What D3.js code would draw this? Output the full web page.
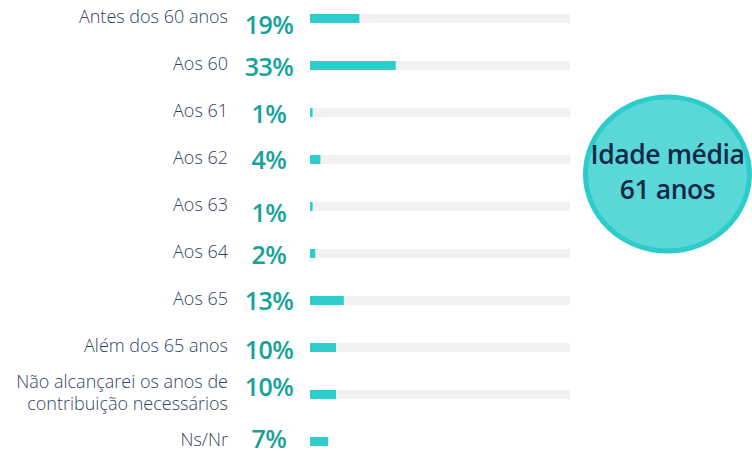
<!DOCTYPE html>
<html>
<head>
<meta charset="utf-8">
<script src="https://cdn.jsdelivr.net/npm/d3@7"></script>
<style>
  body { margin: 0; background: #fff; }
  svg { display: block; }
</style>
</head>
<body>
<div class="chart"></div>
<script>
var svgWidth = 752;
var svgHeight = 451;

// data
var categories = [
  ["Antes dos 60 anos"],
  ["Aos 60"],
  ["Aos 61"],
  ["Aos 62"],
  ["Aos 63"],
  ["Aos 64"],
  ["Aos 65"],
  ["Além dos 65 anos"],
  ["Não alcançarei os anos de", "contribuição necessários"],
  ["Ns/Nr"]
];
var shares = [19, 33, 1, 4, 1, 2, 13, 10, 10, 7];
var hasTrack = [true, true, true, true, true, true, true, true, true, false];
var averageText = ["Idade média", "61 anos"];

// small vertical nudges of the percentage labels, as in the original layout
var labelNudge = [6, 1, 1, 0, 6, 1, 0, 2, -8, -3];

var svg = d3.select(".chart")
  .append("svg")
  .attr("width", svgWidth)
  .attr("height", svgHeight);

var x = d3.scaleLinear()
  .domain([0, 100])
  .range([310, 570]);

var y = d3.scaleBand()
  .domain(d3.range(categories.length))
  .range([-5, 465])
  .paddingInner(0);

var barH = 9;
var rows = svg.selectAll("g.row")
  .data(shares)
  .enter()
  .append("g")
  .attr("class", "row")
  .attr("transform", (d, i) => `translate(0, ${y(i) + y.bandwidth() / 2})`);

// grey tracks
rows.filter((d, i) => hasTrack[i])
  .append("rect")
  .attr("x", x(0))
  .attr("y", -barH / 2)
  .attr("width", x(100) - x(0))
  .attr("height", barH)
  .attr("fill", "#f2f2f2");

// bars
rows.append("rect")
  .attr("x", x(0))
  .attr("y", -barH / 2)
  .attr("width", d => x(d) - x(0))
  .attr("height", barH)
  .attr("fill", "#2ecdcc");

// percentage labels
rows.append("text")
  .attr("x", 269)
  .attr("y", (d, i) => labelNudge[i])
  .attr("dy", "0.36em")
  .attr("text-anchor", "middle")
  .style("font-family", "'Open Sans', sans-serif")
  .style("font-weight", 600)
  .style("font-size", "25px")
  .style("letter-spacing", "-0.5px")
  .attr("fill", "#17a399")
  .text(d => d + "%");

// category labels
rows.append("text")
  .attr("x", 228)
  .attr("text-anchor", "end")
  .style("font-family", "'Open Sans', sans-serif")
  .style("font-weight", 300)
  .style("font-size", "18px")
  .attr("fill", "#34425f")
  .each(function(d, i) {
    var lines = categories[i];
    var t = d3.select(this);
    lines.forEach(function(line, j) {
      t.append("tspan")
        .attr("x", 228)
        .attr("y", -1.5 + (j - (lines.length - 1) / 2) * 22)
        .attr("dy", "0.35em")
        .text(line);
    });
  });

// average bubble
var bubble = svg.append("g")
  .attr("transform", "translate(667.5, 174)");

bubble.append("ellipse")
  .attr("rx", 82)
  .attr("ry", 77)
  .attr("fill", "#5ad8d7")
  .attr("stroke", "#2ccccb")
  .attr("stroke-width", 5);

bubble.selectAll("text")
  .data(averageText)
  .enter()
  .append("text")
  .attr("x", 0)
  .attr("y", (d, i) => -19 + i * 35)
  .attr("dy", "0.35em")
  .attr("text-anchor", "middle")
  .style("font-family", "'Open Sans', sans-serif")
  .style("font-weight", 600)
  .style("font-size", "26.5px")
  .style("letter-spacing", "-0.4px")
  .attr("fill", "#13284a")
  .text(d => d);
</script>
</body>
</html>
